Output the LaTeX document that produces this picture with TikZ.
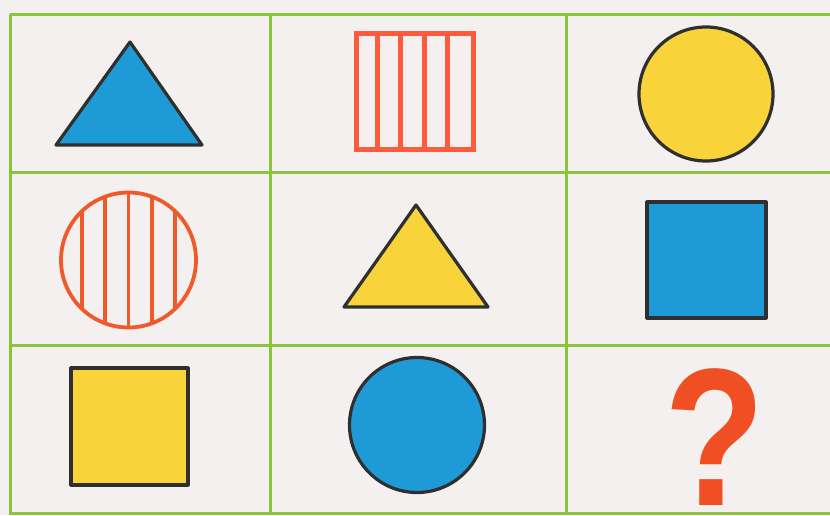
\documentclass[tikz,border=0pt]{standalone}
\usepackage{fontspec}
\newfontfamily\qfont{Liberation Sans}
\definecolor{bg}{HTML}{F4F0EF}
\definecolor{gridg}{HTML}{8CC43E}
\definecolor{fblue}{HTML}{1E9AD6}
\definecolor{fyellow}{HTML}{F8D43A}
\definecolor{fred}{HTML}{FF5A3C}
\definecolor{fred2}{HTML}{EE5A2A}
\definecolor{qred}{HTML}{F04E23}
\definecolor{outl}{HTML}{2F2F2F}
\tikzset{
  gridline/.style={draw=gridg, line width=3pt},
  solidshape/.style={draw=outl, line width=3.2pt, line join=round},
  stripe/.style={draw=fred, line width=5pt},
  stripe2/.style={draw=fred2, line width=3.8pt}
}
\begin{document}
\begin{tikzpicture}[x=1pt,y=-1pt]
\useasboundingbox (0,0) rectangle (830,515);
\fill[bg] (0,0) rectangle (830,515);
% grid
\draw[gridline] (10,14) -- (830,14);
\draw[gridline] (10,172) -- (830,172);
\draw[gridline] (10,345) -- (830,345);
\draw[gridline] (10,513) -- (830,513);
\draw[gridline] (10,14) -- (10,515);
\draw[gridline] (270,14) -- (270,515);
\draw[gridline] (566,14) -- (566,515);
% row 1
\draw[solidshape, fill=fblue] (56,145) -- (130,42) -- (202,145) -- cycle;
\foreach \x in {377,400.5,424,447.5} \draw[stripe] (\x,33.5) -- (\x,149.5);
\draw[stripe] (356.5,33.5) rectangle (473.5,149.5);
\draw[solidshape, fill=fyellow] (706,94) circle[radius=67];
% row 2
\begin{scope}
  \clip (128.5,260) circle[radius=67.5];
  \foreach \x in {82,105,128.5,152,175} \draw[stripe2] (\x,180) -- (\x,340);
\end{scope}
\draw[stripe2] (128.5,260) circle[radius=67.5];
\draw[solidshape, fill=fyellow] (344,307) -- (416,205) -- (488,307) -- cycle;
\draw[solidshape, fill=fblue] (647,202) rectangle (766,318);
% row 3
\draw[solidshape, fill=fyellow] (71,368) rectangle (188,485);
\draw[solidshape, fill=fblue] (417,425) circle[radius=67.5];
\node[text=qred, inner sep=0pt, anchor=base, xscale=0.84] (q) at (715,505) {\qfont\bfseries\fontsize{196}{196}\selectfont ?};
\end{tikzpicture}
\end{document}
